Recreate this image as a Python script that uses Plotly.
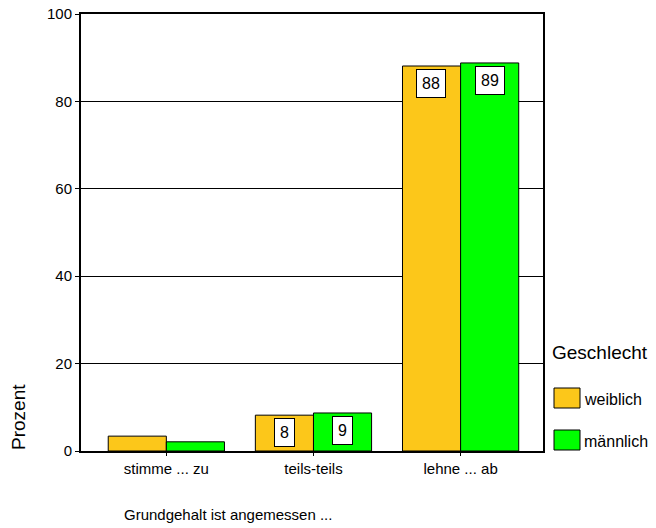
import plotly.graph_objects as go

categories = ["stimme ... zu", "teils-teils", "lehne ... ab"]
series_names = ["weiblich", "männlich"]
weiblich = [3.4, 8.2, 88.1]
maennlich = [2.1, 8.7, 88.8]
labels_w = ["", "8", "88"]
labels_m = ["", "9", "89"]
y_ticks = [0, 20, 40, 60, 80, 100]
colors = ["#FCC71A", "#00FF00"]

FONT = "Liberation Sans, Arial, sans-serif"

W, H = 656, 528
l, r, t, b = 81, 113, 14, 77
pw, ph = W - l - r, H - t - b


def px(x):
    return (x - l) / pw


def py(y):
    return (H - b - y) / ph


fig = go.Figure()
for name, vals, col in zip(series_names, [weiblich, maennlich], colors):
    fig.add_trace(go.Bar(
        x=categories, y=vals, name=name,
        marker=dict(color=col, line=dict(color="black", width=1)),
        showlegend=False, hoverinfo="skip",
    ))

# value labels in white boxes
offsets = [-0.2, 0.2]
for off, vals, labs in zip(offsets, [weiblich, maennlich], [labels_w, labels_m]):
    for i, (v, lab) in enumerate(zip(vals, labs)):
        if not lab:
            continue
        fig.add_annotation(
            x=i + off, y=v, xref="x", yref="y", text=lab,
            showarrow=False, yanchor="top", yshift=-3,
            font=dict(family=FONT, size=16, color="black"),
            bgcolor="white", bordercolor="black", borderwidth=1,
            borderpad=5,
        )

# custom legend
fig.add_annotation(x=px(550), y=py(352), xref="paper", yref="paper", text="Geschlecht",
                   showarrow=False, xanchor="left", yanchor="middle",
                   font=dict(family=FONT, size=19, color="black"))
legend_y = [398, 440]
for name, col, ly in zip(series_names, colors, legend_y):
    fig.add_shape(type="rect", xref="paper", yref="paper",
                  x0=px(554), x1=px(580), y0=py(ly + 10), y1=py(ly - 10),
                  fillcolor=col, line=dict(color="black", width=1))
    fig.add_annotation(x=px(582), y=py(ly + 1), xref="paper", yref="paper",
                       text=name, showarrow=False,
                       xanchor="left", yanchor="middle",
                       font=dict(family=FONT, size=16, color="black"))

fig.add_annotation(x=px(18), y=py(417), xref="paper", yref="paper",
                   text="Prozent", textangle=-90, showarrow=False,
                   xanchor="center", yanchor="middle",
                   font=dict(family=FONT, size=19, color="black"))
fig.add_annotation(x=px(122), y=py(514), xref="paper", yref="paper",
                   text="Grundgehalt ist angemessen ...", showarrow=False,
                   xanchor="left", yanchor="middle",
                   font=dict(family=FONT, size=15, color="black"))

fig.update_layout(
    width=W, height=H,
    margin=dict(l=l, r=r, t=t, b=b, autoexpand=False),
    paper_bgcolor="white", plot_bgcolor="white",
    barmode="group", bargap=0.21, bargroupgap=0,
    font=dict(family=FONT, size=15, color="black"),
    xaxis=dict(
        range=[-0.58, 2.56], showline=True, linecolor="black", linewidth=2,
        mirror=True, ticks="outside", ticklen=3, tickcolor="black",
        showgrid=False, tickfont=dict(size=15), zeroline=False,
        automargin=False,
    ),
    yaxis=dict(
        range=[0, 100], tickvals=y_ticks, showline=True, linecolor="black",
        linewidth=2, mirror=True, ticks="outside", ticklen=4, tickcolor="black",
        showgrid=True, gridcolor="black", gridwidth=1, zeroline=False,
        tickfont=dict(size=15), automargin=False,
    ),
)

fig.write_html(
    "out.html",
    config={"displayModeBar": False},
    post_script="document.body.style.margin='0';document.body.style.overflow='hidden';",
)
